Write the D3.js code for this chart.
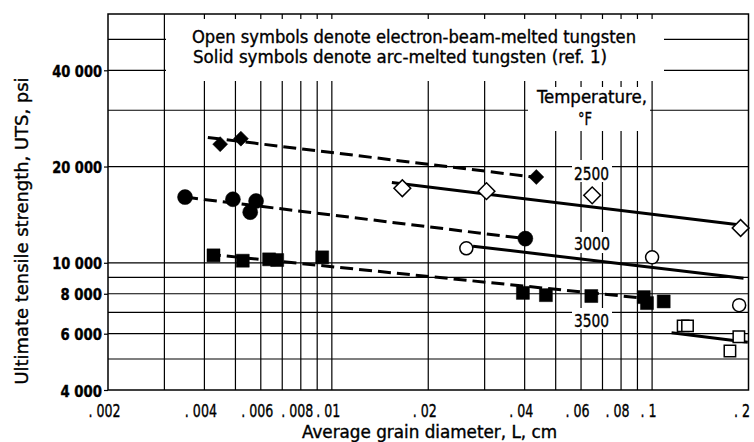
<!DOCTYPE html>
<html>
<head>
<meta charset="utf-8">
<script src="https://cdn.jsdelivr.net/npm/d3@7"></script>
<style>
  body { margin: 0; background: #fff; }
  text { font-family: "DejaVu Sans Condensed", "DejaVu Sans", sans-serif; font-stretch: condensed; fill: #000; stroke: #000; stroke-width: 0.35px; }
</style>
</head>
<body>
<svg id="chart" width="754" height="442"></svg>
<script>
// grain diameter (cm) vs UTS (psi), log-log
var xTickValues = [.002, .004, .006, .008, .01, .02, .04, .06, .08, .1, .2];
var xTickLabels = ['. 002', '. 004', '. 006', '. 008', '. 01', '. 02', '. 04', '. 06', '. 08', '. 1', '. 2'];
var yTickValues = [4000, 6000, 8000, 10000, 20000, 40000];
var yTickLabels = ['4 000', '6 000', '8 000', '10 000', '20 000', '40 000'];
var xGridValues = [.003, .004, .005, .006, .007, .008, .009, .01, .02, .03, .04, .05, .06, .07, .08, .09, .1];
var yGridValues = [5000, 6000, 7000, 8000, 9000, 10000, 20000, 30000, 40000, 50000];

// solid symbols: arc-melted (ref. 1)
var arc2500 = [[.00448, 23500], [.0052, 24450], [.0435, 18550]];
var arc3000 = [[.00348, 16050], [.00491, 15800], [.0058, 15600], [.00556, 14400], [.0402, 11900]];
var arc3500 = [[.00427, 10550], [.00527, 10150], [.00637, 10250], [.00675, 10200], [.00933, 10400],
               [.0395, 8050], [.0466, 7920], [.0646, 7870], [.0942, 7810], [.0964, 7480], [.1087, 7570]];
// open symbols: electron-beam-melted
var eb2500 = [[.0166, 17100], [.0304, 16750], [.065, 16250], [.189, 12850]];
var eb3000 = [[.0263, 11100], [.100, 10400], [.187, 7370]];
var eb3500 = [[.125, 6350], [.129, 6350], [.1866, 5870], [.175, 5300]];

// faired lines
var arc2500Fit = [[.0041, 24650], [.0435, 18500]];
var arc3000Fit = [[.00348, 16050], [.0402, 11900]];
var arc3500Fit = [[.0041, 10640], [.0919, 7770]];
var eb2500Fit = [[.0154, 17830], [.189, 13120]];
var eb3000Fit = [[.0276, 11270], [.193, 8940]];
var eb3500Fit = [[.115, 6040], [.199, 5640]];

var tempLabels = ['2500', '3000', '3500'];

var svg = d3.select('#chart');

var x = d3.scaleLog().domain([.002, .2]).range([108, 748.5]);
var y = d3.scaleLog().domain([4000, 60000]).range([390, 14]);

// grid
svg.append('g').selectAll('line').data(xGridValues).enter().append('line')
	.attr('x1', d => x(d)).attr('x2', d => x(d))
	.attr('y1', y.range()[1]).attr('y2', y.range()[0])
	.attr('stroke', '#000').attr('stroke-width', 1.2);

svg.append('g').selectAll('line').data(yGridValues).enter().append('line')
	.attr('x1', x.range()[0]).attr('x2', x.range()[1])
	.attr('y1', d => y(d)).attr('y2', d => y(d))
	.attr('stroke', '#000').attr('stroke-width', 1.2);

// white blanks behind the notes
var blank = svg.append('g').attr('fill', '#fff');
blank.append('rect').attr('x', 166).attr('y', 19).attr('width', 498).attr('height', 62);
blank.append('rect').attr('x', 528).attr('y', 87).attr('width', 122).attr('height', 44);
blank.append('rect').attr('x', 572).attr('y', 160).attr('width', 40).attr('height', 22);
blank.append('rect').attr('x', 572).attr('y', 232).attr('width', 41).attr('height', 21);
blank.append('rect').attr('x', 572).attr('y', 308).attr('width', 40).attr('height', 21);

// frame
svg.append('rect')
	.attr('x', x.range()[0]).attr('y', y.range()[1])
	.attr('width', x.range()[1] - x.range()[0])
	.attr('height', y.range()[0] - y.range()[1])
	.attr('fill', 'none').attr('stroke', '#000').attr('stroke-width', 1.5);

// axes
var yAxis = d3.axisLeft(y)
	.tickValues(yTickValues)
	.tickFormat((d, i) => yTickLabels[i])
	.tickSize(4)
	.tickPadding(2);

var gy = svg.append('g').attr('transform', 'translate(' + x.range()[0] + ',0)').call(yAxis);
gy.select('.domain').remove();
gy.selectAll('line').attr('stroke', '#000').attr('stroke-width', 1.2);
gy.selectAll('text')
	.attr('font-family', null)
	.style('font-size', '15px').style('font-weight', 'bold')
	.attr('dy', '0.4em')
	.attr('textLength', d => yTickLabels[yTickValues.indexOf(d)].length * 8.3)
	.attr('lengthAdjust', 'spacingAndGlyphs');

var xAxis = d3.axisBottom(x)
	.tickValues(xTickValues)
	.tickFormat((d, i) => xTickLabels[i])
	.tickSize(0);

// tick labels are narrow: squeeze them horizontally
var squeeze = 0.78;
var gx = svg.append('g').attr('transform', 'translate(0,' + y.range()[0] + ')').call(xAxis);
gx.select('.domain').remove();
gx.selectAll('text')
	.attr('font-family', null)
	.style('font-size', '18px')
	.attr('transform', 'scale(' + squeeze + ',1)')
	.attr('y', 27).attr('dy', 0).attr('x', -4 / squeeze);
// last label sits against the right edge
gx.selectAll('text').filter(d => d === .2).attr('text-anchor', 'end').attr('x', 1 / squeeze);

// fit lines
var line = d3.line().x(d => x(d[0])).y(d => y(d[1]));
var fits = [
	{ pts: arc2500Fit, dash: '13,6' },
	{ pts: arc3000Fit, dash: '13,6' },
	{ pts: arc3500Fit, dash: '13,6' },
	{ pts: eb2500Fit, dash: null },
	{ pts: eb3000Fit, dash: null },
	{ pts: eb3500Fit, dash: null }
];
svg.append('g').selectAll('path').data(fits).enter().append('path')
	.attr('d', d => line(d.pts))
	.attr('fill', 'none')
	.attr('stroke', '#000')
	.attr('stroke-width', 3)
	.attr('stroke-dasharray', d => d.dash);

// symbols
var sets = [
	{ pts: arc2500, type: d3.symbolSquare, size: 112, rot: 45, solid: true },
	{ pts: arc3000, type: d3.symbolCircle, size: 177, rot: 0, solid: true },
	{ pts: arc3500, type: d3.symbolSquare, size: 169, rot: 0, solid: true },
	{ pts: eb2500, type: d3.symbolSquare, size: 140, rot: 45, solid: false },
	{ pts: eb3000, type: d3.symbolCircle, size: 133, rot: 0, solid: false },
	{ pts: eb3500, type: d3.symbolSquare, size: 130, rot: 0, solid: false }
];
sets.forEach(function (s) {
	svg.append('g').selectAll('path').data(s.pts).enter().append('path')
		.attr('d', d3.symbol().type(s.type).size(s.size))
		.attr('transform', d => 'translate(' + x(d[0]) + ',' + y(d[1]) + ') rotate(' + s.rot + ')')
		.attr('fill', s.solid ? '#000' : '#fff')
		.attr('stroke', '#000')
		.attr('stroke-width', s.solid ? 0.5 : 1.5);
});

// text
function label(txt, px, py, len, size, anchor) {
	return svg.append('text')
		.attr('x', px).attr('y', py)
		.attr('text-anchor', anchor || 'start')
		.style('font-size', size + 'px')
		.attr('textLength', len)
		.attr('lengthAdjust', 'spacingAndGlyphs')
		.text(txt);
}

label('Open symbols denote electron-beam-melted tungsten', 192, 43, 444, 18);
label('Solid symbols denote arc-melted tungsten (ref. 1)', 193, 63, 414, 18);
label('Temperature,', 537, 103, 110, 18);
label('\u00b0F', 578, 125, 14, 18);
label(tempLabels[0], 574, 180, 35, 18);
label(tempLabels[1], 574, 250, 36, 18);
label(tempLabels[2], 574, 327, 35, 18);

label('Average grain diameter, L, cm', 302, 438, 255, 17);
svg.append('text')
	.attr('transform', 'translate(28,231) rotate(-90)')
	.attr('text-anchor', 'middle')
	.style('font-size', '17px')
	.attr('textLength', 307)
	.attr('lengthAdjust', 'spacingAndGlyphs')
	.text('Ultimate tensile strength, UTS, psi');
</script>
</body>
</html>
